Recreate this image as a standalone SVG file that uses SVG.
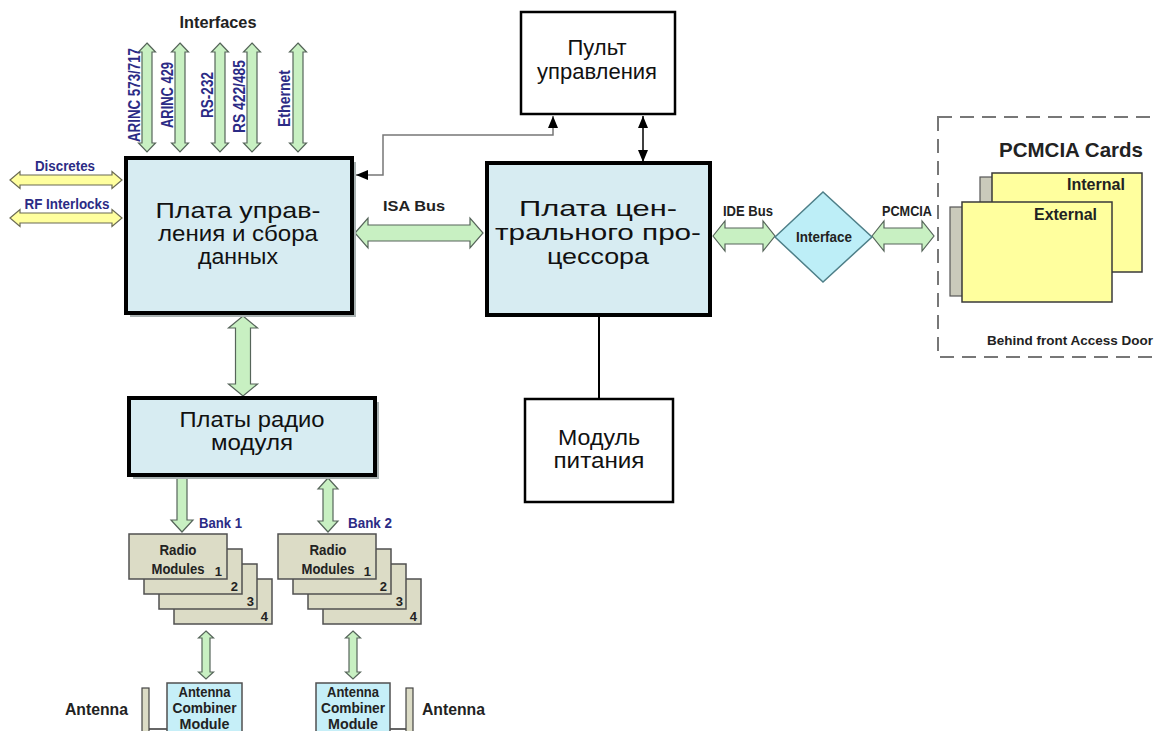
<svg xmlns="http://www.w3.org/2000/svg" xmlns:xlink="http://www.w3.org/1999/xlink" width="1158" height="731" viewBox="0 0 1158 731">
  <style>
    .board { fill: #d7ecf2; stroke: #000; stroke-width: 4; }
    .plain { fill: #fff; stroke: #000; stroke-width: 2.5; }
    .shadow { fill: #a9b2b2; }
    .ru { font-family: "Liberation Sans", Arial, sans-serif; font-size: 22px; fill: #111; text-anchor: middle; }
    .lbl { font-family: "Liberation Sans Narrow", "Liberation Sans", Arial, sans-serif; font-weight: bold; fill: #222; }
    .blue { fill: #2b2b85; }
    .bus { fill: #c8f0c2; stroke: #56655a; stroke-width: 1.2; }
    .ybus { fill: #ffff9e; stroke: #6b6b55; stroke-width: 1.2; }
    .card { fill: #dcdcc6; stroke: #505050; stroke-width: 1.5; }
    .comb { fill: #c6eff8; stroke: #505050; stroke-width: 1.5; }
    .pc { fill: #ffff9e; stroke: #3a3a3a; stroke-width: 1.5; }
    .tab { fill: #cacabb; stroke: #555; stroke-width: 1.2; }
    .wire { fill: none; stroke: #000; stroke-width: 1.5; }
  </style>
  <defs>
    <marker id="head" viewBox="0 0 12 10" refX="12" refY="5" markerWidth="12" markerHeight="10" markerUnits="userSpaceOnUse" orient="auto-start-reverse">
      <path d="M0 0 L12 5 L0 10 Z" fill="#000"/>
    </marker>
    <!-- vertical bus arrow for the interface lines -->
    <path id="ifArrow" d="M0 0 L8.5 9 L5 9 L5 100 L8.5 100 L0 109 L-8.5 100 L-5 100 L-5 9 L-8.5 9 Z"/>
    <!-- horizontal discrete signal arrow -->
    <path id="sideArrow" d="M0 0 L10 -8.5 L10 -5 L102 -5 L102 -8.5 L112 0 L102 8.5 L102 5 L10 5 L10 8.5 Z"/>
    <!-- short arrow to the antenna combiner -->
    <path id="lowArrow" d="M0 0 L7.5 7 L4 7 L4 41 L7.5 41 L0 48 L-7.5 41 L-4 41 L-4 7 L-7.5 7 Z"/>
  </defs>

  <rect width="1158" height="731" fill="#fff"/>

  <!-- connectors -->
  <g id="connectors">
    <g class="bus">
      <use xlink:href="#ifArrow" x="147" y="43"/>
      <use xlink:href="#ifArrow" x="180" y="43"/>
      <use xlink:href="#ifArrow" x="220" y="43"/>
      <use xlink:href="#ifArrow" x="252" y="43"/>
      <use xlink:href="#ifArrow" x="298" y="43"/>
      <path d="M355 233 L368 218 L368 225 L470 225 L470 218 L483 233 L470 248 L470 241 L368 241 L368 248 Z"/>
      <path d="M713 236 L725 221 L725 228 L763 228 L763 221 L775 236 L763 251 L763 244 L725 244 L725 251 Z"/>
      <path d="M872 236 L884 221 L884 228 L922 228 L922 221 L934 236 L922 251 L922 244 L884 244 L884 251 Z"/>
      <path d="M243 316 L257.5 328 L250.5 328 L250.5 384 L257.5 384 L243 396 L228.5 384 L235.5 384 L235.5 328 L228.5 328 Z"/>
      <path d="M177 476 L187 476 L187 520 L193 520 L182 532 L171 520 L177 520 Z"/>
      <path d="M328 478 L338 489 L333 489 L333 521 L338 521 L328 532 L318 521 L323 521 L323 489 L318 489 Z"/>
      <use xlink:href="#lowArrow" x="206" y="631"/>
      <use xlink:href="#lowArrow" x="353" y="631"/>
    </g>
    <g class="ybus">
      <use xlink:href="#sideArrow" x="10" y="180"/>
      <use xlink:href="#sideArrow" x="10" y="218"/>
    </g>
    <polyline points="553,116 553,135 383,135 383,175 356,175" fill="none" stroke="#777" stroke-width="1.5" marker-start="url(#head)" marker-end="url(#head)"/>
    <line x1="643" y1="116" x2="643" y2="162" class="wire" marker-start="url(#head)" marker-end="url(#head)"/>
    <line x1="599" y1="316" x2="599" y2="399" stroke="#000" stroke-width="2"/>
    <line x1="149" y1="729" x2="167" y2="729" stroke="#333" stroke-width="1.5"/>
    <line x1="390" y1="729" x2="406" y2="729" stroke="#333" stroke-width="1.5"/>

    <text class="lbl" x="218" y="28" font-size="16" text-anchor="middle" textLength="77" lengthAdjust="spacingAndGlyphs">Interfaces</text>
    <g class="lbl blue" font-size="17">
      <text transform="translate(140,142) rotate(-90)" textLength="94" lengthAdjust="spacingAndGlyphs">ARINC 573/717</text>
      <text transform="translate(173,128) rotate(-90)" textLength="66" lengthAdjust="spacingAndGlyphs">ARINC 429</text>
      <text transform="translate(213,118) rotate(-90)" textLength="46" lengthAdjust="spacingAndGlyphs">RS-232</text>
      <text transform="translate(245,133) rotate(-90)" textLength="73" lengthAdjust="spacingAndGlyphs">RS 422/485</text>
      <text transform="translate(290,127) rotate(-90)" textLength="57" lengthAdjust="spacingAndGlyphs">Ethernet</text>
    </g>
    <g class="lbl blue" font-size="14" text-anchor="middle">
      <text x="65" y="171" textLength="60" lengthAdjust="spacingAndGlyphs">Discretes</text>
      <text x="67" y="209" textLength="85" lengthAdjust="spacingAndGlyphs">RF Interlocks</text>
    </g>
    <g class="lbl" font-size="14" text-anchor="middle">
      <text x="414" y="211" textLength="62" lengthAdjust="spacingAndGlyphs">ISA Bus</text>
      <text x="748" y="216" textLength="50" lengthAdjust="spacingAndGlyphs">IDE Bus</text>
      <text x="907" y="216" textLength="50" lengthAdjust="spacingAndGlyphs">PCMCIA</text>
    </g>
    <g class="lbl blue" font-size="14">
      <text x="199" y="528" textLength="43" lengthAdjust="spacingAndGlyphs">Bank 1</text>
      <text x="348" y="528" textLength="44" lengthAdjust="spacingAndGlyphs">Bank 2</text>
    </g>
  </g>

  <!-- control and data acquisition board -->
  <g id="node-control-board">
    <rect class="shadow" x="130" y="162" width="226" height="155"/>
    <rect class="board" x="126" y="158" width="226" height="155"/>
    <text class="ru" x="238" y="218" textLength="165" lengthAdjust="spacingAndGlyphs">Плата управ-</text>
    <text class="ru" x="238" y="241" textLength="160" lengthAdjust="spacingAndGlyphs">ления и сбора</text>
    <text class="ru" x="238" y="264" textLength="80" lengthAdjust="spacingAndGlyphs">данных</text>
  </g>

  <!-- control panel -->
  <g id="node-control-panel">
    <rect class="plain" x="521" y="12" width="154" height="102"/>
    <text class="ru" x="597" y="55" font-size="24">Пульт</text>
    <text class="ru" x="597" y="79" font-size="24">управления</text>
  </g>

  <!-- CPU board -->
  <g id="node-cpu-board">
    <rect class="board" x="487" y="163" width="223" height="152"/>
    <text class="ru" x="598" y="216" textLength="158" lengthAdjust="spacingAndGlyphs">Плата цен-</text>
    <text class="ru" x="598" y="240" textLength="206" lengthAdjust="spacingAndGlyphs">трального про-</text>
    <text class="ru" x="598" y="264" textLength="102" lengthAdjust="spacingAndGlyphs">цессора</text>
  </g>

  <!-- power supply -->
  <g id="node-power">
    <rect class="plain" x="525" y="399" width="148" height="103"/>
    <text class="ru" x="599" y="445" font-size="20" textLength="82" lengthAdjust="spacingAndGlyphs">Модуль</text>
    <text class="ru" x="599" y="468" font-size="20" textLength="91" lengthAdjust="spacingAndGlyphs">питания</text>
  </g>

  <!-- IDE / PCMCIA interface -->
  <g id="node-interface">
    <polygon points="775,237 823,192 872,237 823,282" fill="#bdeef7" stroke="#4e7f88" stroke-width="1.5"/>
    <text class="lbl" x="824" y="242" font-size="15" text-anchor="middle" textLength="56" lengthAdjust="spacingAndGlyphs">Interface</text>
  </g>

  <!-- PCMCIA card bay -->
  <g id="node-pcmcia">
    <rect x="938" y="117" width="240" height="240" fill="none" stroke="#777" stroke-width="2" stroke-dasharray="14 8"/>
    <text class="lbl" x="1071" y="157" font-size="21" text-anchor="middle" textLength="144" lengthAdjust="spacingAndGlyphs">PCMCIA Cards</text>
    <rect class="tab" x="980" y="177" width="20" height="30"/>
    <rect class="pc" x="992" y="173" width="150" height="99"/>
    <text class="lbl" x="1125" y="190" font-size="16" text-anchor="end" textLength="58" lengthAdjust="spacingAndGlyphs">Internal</text>
    <rect class="tab" x="950" y="207" width="20" height="89"/>
    <rect class="pc" x="962" y="202" width="150" height="100"/>
    <text class="lbl" x="1097" y="220" font-size="16" text-anchor="end" textLength="63" lengthAdjust="spacingAndGlyphs">External</text>
    <text class="lbl" x="1153" y="345" font-size="13.5" text-anchor="end" textLength="166" lengthAdjust="spacingAndGlyphs">Behind front Access Door</text>
  </g>

  <!-- radio module boards -->
  <g id="node-radio-boards">
    <rect class="shadow" x="133" y="402" width="246" height="77"/>
    <rect class="board" x="129" y="398" width="246" height="77" stroke-width="3.5"/>
    <text class="ru" x="252" y="427" font-size="19.5" textLength="145" lengthAdjust="spacingAndGlyphs">Платы радио</text>
    <text class="ru" x="252" y="450" font-size="19.5" textLength="82" lengthAdjust="spacingAndGlyphs">модуля</text>
  </g>

  <!-- bank 1 radio modules -->
  <g id="node-bank1">
    <rect class="card" x="174" y="579" width="98" height="45"/>
    <rect class="card" x="159" y="564" width="98" height="45"/>
    <rect class="card" x="144" y="549" width="98" height="45"/>
    <rect class="card" x="129" y="534" width="98" height="45"/>
    <g class="lbl" font-size="15" text-anchor="middle">
      <text x="178" y="555" textLength="37" lengthAdjust="spacingAndGlyphs">Radio</text>
      <text x="178" y="574" textLength="53" lengthAdjust="spacingAndGlyphs">Modules</text>
    </g>
    <g class="lbl" font-size="13" text-anchor="end">
      <text x="222" y="576">1</text>
      <text x="238" y="591">2</text>
      <text x="254" y="606">3</text>
      <text x="268" y="621">4</text>
    </g>
  </g>

  <!-- bank 2 radio modules -->
  <g id="node-bank2">
    <rect class="card" x="323" y="579" width="98" height="45"/>
    <rect class="card" x="308" y="564" width="98" height="45"/>
    <rect class="card" x="293" y="549" width="98" height="45"/>
    <rect class="card" x="278" y="534" width="98" height="45"/>
    <g class="lbl" font-size="15" text-anchor="middle">
      <text x="328" y="555" textLength="37" lengthAdjust="spacingAndGlyphs">Radio</text>
      <text x="328" y="574" textLength="53" lengthAdjust="spacingAndGlyphs">Modules</text>
    </g>
    <g class="lbl" font-size="13" text-anchor="end">
      <text x="371" y="576">1</text>
      <text x="387" y="591">2</text>
      <text x="403" y="606">3</text>
      <text x="417" y="621">4</text>
    </g>
  </g>

  <!-- antenna combiner, bank 1 -->
  <g id="node-combiner1">
    <rect class="comb" x="167" y="683" width="75" height="60"/>
    <g class="lbl" font-size="15" text-anchor="middle">
      <text x="204.5" y="697" textLength="52" lengthAdjust="spacingAndGlyphs">Antenna</text>
      <text x="204.5" y="713" textLength="64" lengthAdjust="spacingAndGlyphs">Combiner</text>
      <text x="204.5" y="729" textLength="50" lengthAdjust="spacingAndGlyphs">Module</text>
    </g>
  </g>
  <g id="node-antenna1">
    <rect x="142" y="688" width="7" height="50" fill="#dcdcc6" stroke="#444" stroke-width="1.2"/>
    <text class="lbl" x="128" y="715" font-size="16" text-anchor="end" textLength="63" lengthAdjust="spacingAndGlyphs">Antenna</text>
  </g>

  <!-- antenna combiner, bank 2 -->
  <g id="node-combiner2">
    <rect class="comb" x="316" y="683" width="74" height="60"/>
    <g class="lbl" font-size="15" text-anchor="middle">
      <text x="353" y="697" textLength="52" lengthAdjust="spacingAndGlyphs">Antenna</text>
      <text x="353" y="713" textLength="64" lengthAdjust="spacingAndGlyphs">Combiner</text>
      <text x="353" y="729" textLength="50" lengthAdjust="spacingAndGlyphs">Module</text>
    </g>
  </g>
  <g id="node-antenna2">
    <rect x="406" y="688" width="7" height="50" fill="#dcdcc6" stroke="#444" stroke-width="1.2"/>
    <text class="lbl" x="422" y="715" font-size="16" textLength="63" lengthAdjust="spacingAndGlyphs">Antenna</text>
  </g>
</svg>
